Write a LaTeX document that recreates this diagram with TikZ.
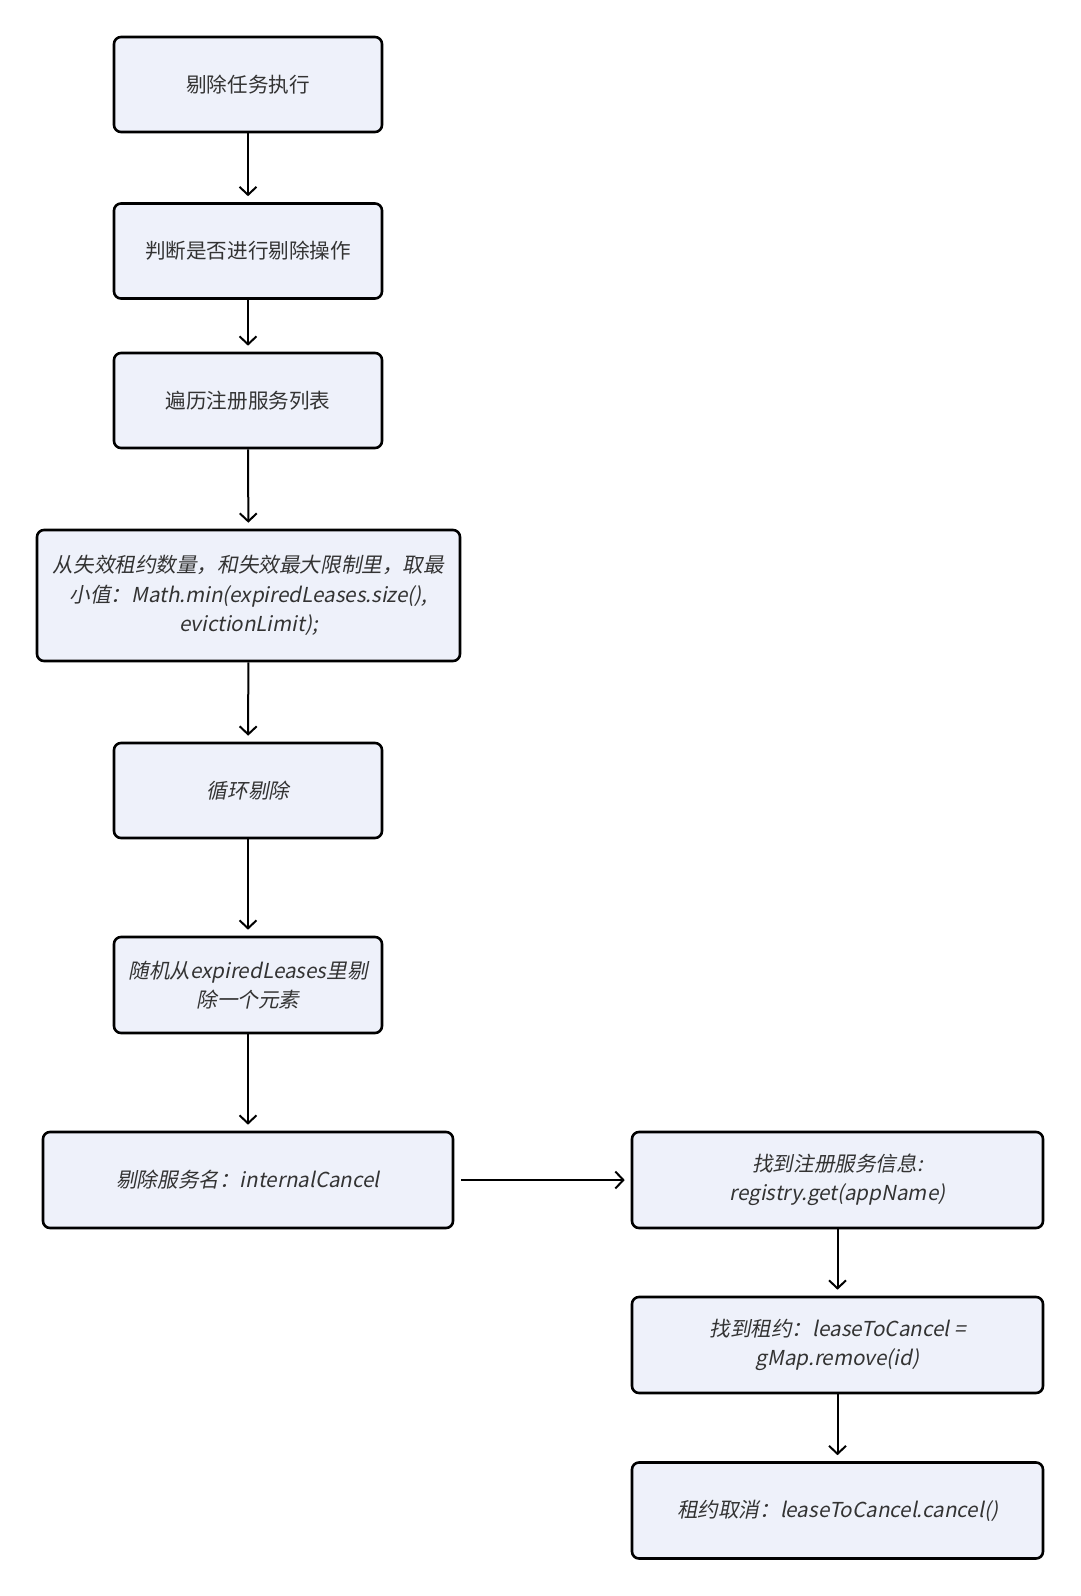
\documentclass[tikz,border=0pt]{standalone}
\usepackage{fontspec}
\setmainfont{Noto Sans CJK SC}[ItalicFont={Noto Sans CJK SC},ItalicFeatures={FakeSlant=0.2}]
\usepackage{xcolor}
\usetikzlibrary{arrows.meta,positioning}

\definecolor{boxfill}{HTML}{EEF1FA}
\definecolor{boxtext}{HTML}{333333}

\begin{document}
\begin{tikzpicture}[
  x=1pt, y=1pt,
  stepbox/.style={draw=black, line width=2.6pt, rounded corners=7pt,
                  fill=boxfill, text=boxtext, align=center,
                  minimum width=268pt, minimum height=95pt,
                  font=\fontsize{20.6}{29.5}\selectfont},
  widebox/.style={stepbox, minimum width=410pt, minimum height=96pt},
  arrow/.style={-{Straight Barb[length=8pt, width=17pt, line width=2pt]},
                line width=2pt, shorten >=6pt},
]
\useasboundingbox (0,0) rectangle (1080,-1596);
\fill[white] (0,0) rectangle (1080,-1596);

% main column
\node[stepbox] (start) at (248,-84.5) {剔除任务执行};
\node[stepbox] (check) at (248,-251) {判断是否进行剔除操作};
\node[stepbox] (scan) at (248,-400.5) {遍历注册服务列表};
\node[stepbox, minimum width=423pt, minimum height=131pt] (limit) at (248.5,-595.5)
  {\itshape 从失效租约数量，和失效最大限制里，取最\\
   \itshape 小值：Math.min(expiredLeases.size(),\\
   \itshape evictionLimit);};
\node[stepbox] (loop) at (248,-790.5) {\itshape 循环剔除};
\node[stepbox, minimum height=96pt] (random) at (248,-985)
  {\itshape 随机从expiredLeases里剔\\ \itshape 除一个元素};
\node[widebox] (cancel) at (248,-1180) {\itshape 剔除服务名：internalCancel};

% right column
\node[widebox, minimum width=411pt] (lookup) at (837.5,-1180)
  {\itshape 找到注册服务信息:\\ \itshape registry.get(appName)};
\node[widebox, minimum width=411pt] (lease) at (837.5,-1345)
  {\itshape 找到租约：leaseToCancel =\\ \itshape gMap.remove(id)};
\node[widebox, minimum width=411pt] (done) at (837.5,-1510.5)
  {\itshape 租约取消：leaseToCancel.cancel()};

\draw[arrow] (start) -- (check);
\draw[arrow] (check) -- (scan);
\draw[arrow] (scan) -- (limit);
\draw[arrow] (limit) -- (loop);
\draw[arrow] (loop) -- (random);
\draw[arrow] (random) -- (cancel);
\draw[arrow, shorten <=7pt] (cancel) -- (lookup);
\draw[arrow] (lookup) -- (lease);
\draw[arrow] (lease) -- (done);
\end{tikzpicture}
\end{document}
